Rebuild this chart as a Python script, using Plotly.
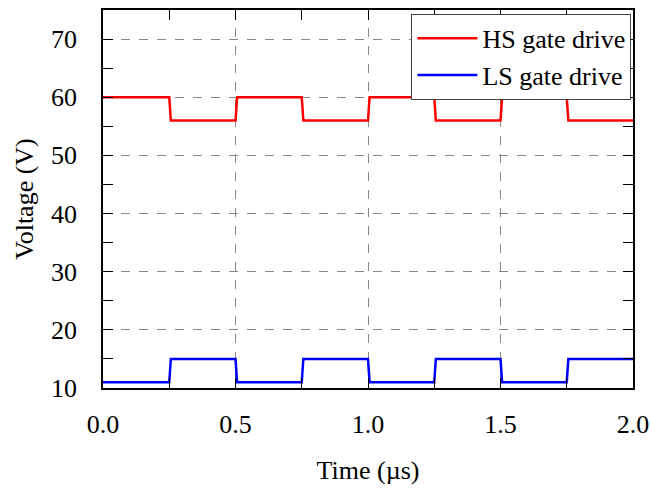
import plotly.graph_objects as go

# Data
time_us = [0.0, 0.25, 0.256, 0.5, 0.506, 0.75, 0.756, 1.0, 1.006, 1.25, 1.256,
           1.5, 1.506, 1.75, 1.756, 2.0]
hs_gate = [60, 60, 56, 56, 60, 60, 56, 56, 60, 60, 56, 56, 60, 60, 56, 56]
ls_gate = [11, 11, 15, 15, 11, 11, 15, 15, 11, 11, 15, 15, 11, 11, 15, 15]
x_ticks = [0.0, 0.5, 1.0, 1.5, 2.0]
x_tick_labels = ["0.0", "0.5", "1.0", "1.5", "2.0"]
y_ticks = [10, 20, 30, 40, 50, 60, 70]

font = "Liberation Serif"
fsize = 26

fig = go.Figure()
fig.add_trace(go.Scatter(x=time_us, y=hs_gate, mode="lines", name="HS gate drive",
                         line=dict(color="#ff0000", width=2.5)))
fig.add_trace(go.Scatter(x=time_us, y=ls_gate, mode="lines", name="LS gate drive",
                         line=dict(color="#0000ff", width=2.5)))

axis_common = dict(
    showline=True, linecolor="black", linewidth=1.5, mirror="allticks",
    ticks="inside", ticklen=10, tickwidth=1, tickcolor="black",
    showgrid=True, gridcolor="#888888", griddash="dash", gridwidth=1,
    zeroline=False, automargin=False,
    tickfont=dict(family=font, size=fsize, color="black"),
)

fig.update_xaxes(
    range=[0, 2.0], tickvals=x_ticks, ticktext=x_tick_labels,
    ticklabelstandoff=12,
    title=dict(text="Time (µs)", font=dict(family=font, size=fsize, color="black"), standoff=23),
    minor=dict(dtick=0.25, ticks="inside", ticklen=10, tickcolor="black", showgrid=False),
    **axis_common,
)
fig.update_yaxes(
    range=[10, 75], tickvals=y_ticks,
    ticklabelstandoff=19,
    title=dict(text="Voltage (V)", font=dict(family=font, size=fsize, color="black"), standoff=10),
    minor=dict(dtick=5, ticks="inside", ticklen=10, tickcolor="black", showgrid=False),
    **axis_common,
)

fig.update_layout(
    width=651, height=488,
    margin=dict(l=103, r=18, t=10, b=100, autoexpand=False),
    plot_bgcolor="white", paper_bgcolor="white",
    font=dict(family=font, color="black"),
    legend=dict(x=0.997, y=0.99, xanchor="right", yanchor="top",
                bgcolor="white", bordercolor="#444444", borderwidth=1,
                font=dict(family=font, size=fsize, color="black"),
                itemwidth=60, tracegroupgap=0),
    showlegend=True,
)

# remove the page's default body margin so the figure sits at the window origin
fig.write_html(
    "out.html",
    config={"displayModeBar": False},
    post_script="document.body.style.margin='0';document.body.style.overflow='hidden';",
)
